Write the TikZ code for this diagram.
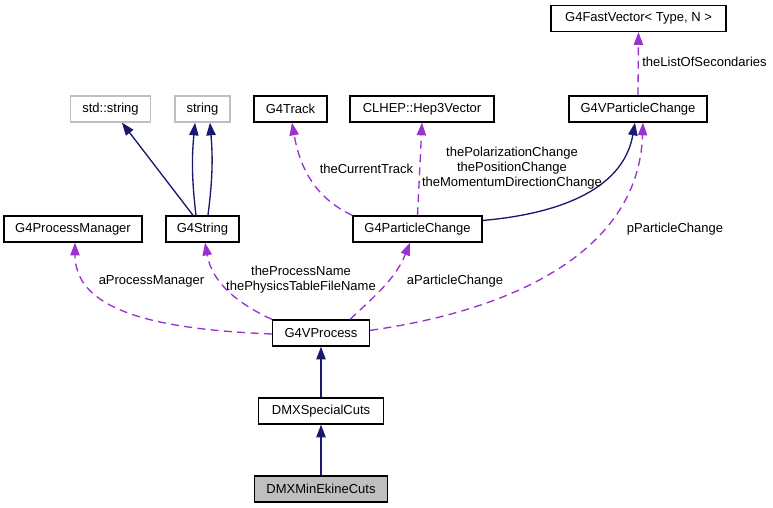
\documentclass[tikz,border=0pt]{standalone}
\usepackage{fontspec}
\setmainfont{Liberation Sans}
\usetikzlibrary{arrows.meta,positioning}

\definecolor{inhcol}{HTML}{191970}
\definecolor{usecol}{HTML}{9A32CD}
\definecolor{extgray}{HTML}{BFBFBF}

\tikzset{
  cls/.style={draw=black, line width=1pt, fill=white, minimum height=19.5pt, inner sep=0pt, font=\fontsize{9.75}{11.25}\selectfont},
  extcls/.style={cls, draw=extgray},
  curcls/.style={cls, fill=extgray},
  inherit/.style={draw=inhcol, line width=1pt, -{Triangle[length=9.5pt,width=7pt]}},
  usage/.style={draw=usecol, line width=1pt, dash pattern=on 6pt off 4pt, -{Triangle[length=9.5pt,width=7pt]}},
  lbl/.style={font=\fontsize{9.75}{11.25}\selectfont, inner sep=0pt, align=center},
}

\begin{document}
\begin{tikzpicture}[x=0.75pt, y=0.75pt]
  \useasboundingbox (0,0) rectangle (773,-507);

  % classes
  \node[cls, minimum width=131.25pt] (fastvec) at (638.5,-18.5) {G4FastVector< Type, N >};
  \node[extcls, minimum width=60pt] (stdstring) at (110.5,-109) {std::string};
  \node[extcls, minimum width=41.25pt] (string) at (202.5,-109) {string};
  \node[cls, minimum width=54.75pt] (track) at (290.5,-109) {G4Track};
  \node[cls, minimum width=108pt] (hep3) at (422,-109) {CLHEP::Hep3Vector};
  \node[cls, minimum width=103.5pt] (vpchange) at (638,-109) {G4VParticleChange};
  \node[cls, minimum width=103.5pt] (procman) at (73,-229) {G4ProcessManager};
  \node[cls, minimum width=54.75pt] (g4string) at (202.5,-229) {G4String};
  \node[cls, minimum width=96.75pt] (pchange) at (417.5,-229) {G4ParticleChange};
  \node[cls, minimum width=72.75pt] (vprocess) at (321,-333) {G4VProcess};
  \node[cls, minimum width=93.75pt, below=38pt of vprocess] (specialcuts) {DMXSpecialCuts};
  \node[curcls, minimum width=99.75pt, below=38pt of specialcuts] (minekine) {DMXMinEkineCuts};

  % inheritance
  \draw[inherit] (specialcuts) -- (vprocess);
  \draw[inherit] (minekine) -- (specialcuts);
  \draw[inherit] ([xshift=-7.1pt]g4string.north) -- ([xshift=8.6pt]stdstring.south);
  \draw[inherit] ([xshift=-4.9pt]g4string.north) to[bend left=6] ([xshift=-5.6pt]string.south);
  \draw[inherit] ([xshift=4.1pt]g4string.north) to[bend right=6] ([xshift=5.6pt]string.south);
  \draw[inherit] ([yshift=6.4pt]pchange.east) to[out=5,in=-100] ([xshift=-2.25pt]vpchange.south);

  % usage
  \draw[usage] (vpchange.north) -- (fastvec.south);
  \draw[usage] (pchange.north west) to[out=155,in=-80] ([xshift=1.1pt]track.south);
  \draw[usage] (pchange.north) -- (hep3.south);
  \draw[usage] ([yshift=2pt]vprocess.east) to[out=8,in=-92] ([xshift=3.75pt]vpchange.south);
  \draw[usage] ([xshift=21.75pt]vprocess.north) to[out=43,in=-112] ([xshift=-5.6pt]pchange.south);
  \draw[usage] (vprocess.north west) to[out=155,in=-80] ([xshift=1.9pt]g4string.south);
  \draw[usage] ([yshift=-0.75pt]vprocess.west) .. controls (180,-330) and (75,-318) .. ([xshift=1.5pt]procman.south);

  % labels
  \node[lbl] (lsec) at (704.5,-62) {theListOfSecondaries};
  \node[lbl] (lcur) at (366.5,-169) {theCurrentTrack};
  \node[lbl] (lvec) at (512,-168) {thePolarizationChange\\thePositionChange\\theMomentumDirectionChange};
  \node[lbl] (lpart) at (675,-229) {pParticleChange};
  \node[lbl] (lapc) at (455,-281) {aParticleChange};
  \node[lbl] (lname) at (301,-280) {theProcessName\\thePhysicsTableFileName};
  \node[lbl] (lman) at (151.5,-281) {aProcessManager};
\end{tikzpicture}
\end{document}
